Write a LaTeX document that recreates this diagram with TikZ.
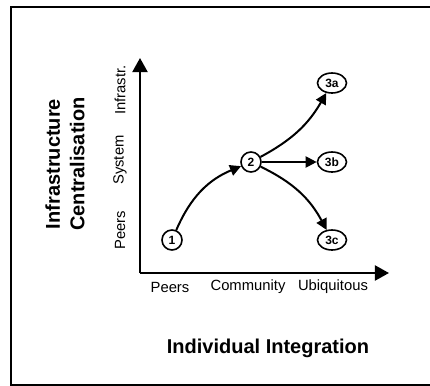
\documentclass[tikz,border=0pt]{standalone}
\usepackage{fontspec}
\setmainfont{Liberation Sans}
\usetikzlibrary{arrows.meta,shapes.geometric}

\begin{document}
\begin{tikzpicture}[x=0.5pt,y=-0.5pt,
    stage/.style={draw,circle,line width=0.8pt,minimum size=10pt,inner sep=0pt,font=\fontsize{6}{7}\selectfont\bfseries},
    branch/.style={draw,ellipse,line width=0.8pt,minimum width=14.5pt,minimum height=10pt,inner sep=0pt,font=\fontsize{6}{7}\selectfont\bfseries},
    axis/.style={line width=1pt,-{Triangle[length=7pt,width=7.5pt]}},
    link/.style={line width=1pt,-{Triangle[length=5.5pt,width=5.5pt]}},
    tick/.style={inner sep=0pt,font=\fontsize{7.4}{9}\selectfont},
    heading/.style={inner sep=0pt,align=center,font=\fontsize{10}{12.3}\selectfont\bfseries}]
              \useasboundingbox (0,0) rectangle (430,386);
              \draw[line width=1pt] (11,7) rectangle (445,385);

              %axes
              \coordinate (o) at (140,273);
              \coordinate (ytop) at (140,58);
              \coordinate (xend) at (389,273);
              \draw[axis] (o) -- (ytop);
              \draw[axis] (o) -- (xend);

              \node[stage] (n1) at (172,240) {1};
              \node[stage] (n2) at (251,162) {2};
              \node[branch] (n3a) at (332,83) {3a};
              \node[branch] (n3b) at (332,162) {3b};
              \node[branch] (n3c) at (332,240) {3c};

              %1>2
              \draw[link] (n1) to[bend left=22] (n2);
              %2>3
              \draw[link] (n2) to[bend right=16] (n3a);
              \draw[link] (n2) -- (n3b);
              \draw[link] (n2) to[bend left=18] (n3c);

              \node[tick,rotate=90] (ypeers) at (120,230) {Peers};
              \node[tick,rotate=90] (ysystem) at (120,160) {System};
              \node[tick,rotate=90] (yinfra) at (120,90) {Infrastr.};
              \node[tick] (xpeers) at (170,287) {Peers};
              \node[tick] (xcomm) at (248,287) {Community};
              \node[tick] (xubiq) at (333,287) {Ubiquitous};

              \node[heading,rotate=90] (ytitle) at (65,164) {Infrastructure\\Centralisation};
              \node[heading] (xtitle) at (268,348) {Individual Integration};
\end{tikzpicture}
\end{document}
